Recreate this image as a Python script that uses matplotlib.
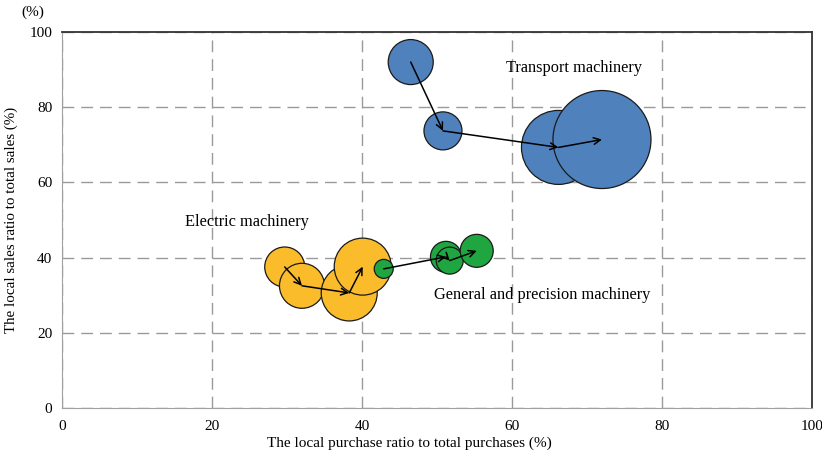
import numpy as np
import matplotlib.pyplot as plt

plt.rcParams['font.family'] = ['Liberation Serif', 'DejaVu Serif']

# bubble data: local purchase ratio (x), local sales ratio (y), bubble size (s)
transport_x = [46.5, 50.8, 66.2, 72.0]
transport_y = [92.0, 73.7, 69.3, 71.4]
transport_s = [1050, 749, 2838, 4979]

electric_x = [29.7, 32.0, 38.3, 40.1]
electric_y = [37.5, 32.5, 30.6, 37.6]
electric_s = [829, 1050, 1626, 1684]

general_x = [42.9, 51.2, 51.7, 55.3]
general_y = [37.0, 40.2, 39.2, 41.8]
general_s = [187, 498, 378, 564]

x_ticks = [0, 20, 40, 60, 80, 100]
y_ticks = [0, 20, 40, 60, 80, 100]

fig = plt.figure(figsize=(8.22, 4.55), dpi=100)
ax = fig.add_axes([0.0754, 0.1033, 0.9124, 0.8264])


def draw_group(xs, ys, ss, color):
    ax.scatter(xs, ys, s=ss, color=color, edgecolor='#1a1a1a', linewidth=0.9, zorder=3)
    for i in range(len(xs) - 1):
        ax.annotate('', xy=(xs[i + 1], ys[i + 1]), xytext=(xs[i], ys[i]),
                    arrowprops=dict(arrowstyle='->', color='black', lw=1.1,
                                    shrinkA=0, shrinkB=0, mutation_scale=12),
                    zorder=4)


draw_group(transport_x, transport_y, transport_s, '#4f81bd')
draw_group(electric_x, electric_y, electric_s, '#fbbc2c')
# green group drawn last so its small bubble sits on top of the yellow ones
draw_group(general_x, general_y, general_s, '#1fa640')

ax.text(59.2, 90.4, 'Transport machinery', fontsize=11.8, ha='left', va='center')
ax.text(16.4, 49.5, 'Electric machinery', fontsize=11.8, ha='left', va='center')
ax.text(49.6, 30.0, 'General and precision machinery', fontsize=11.8, ha='left', va='center')

ax.set_xlim(0, 100)
ax.set_ylim(0, 100)
ax.set_xticks(x_ticks)
ax.set_yticks(y_ticks)
ax.tick_params(length=0, labelsize=11, pad=7)
ax.tick_params(axis='x', pad=9)
ax.grid(True, linestyle=(0, (8.5, 5)), color='#9a9a9a', linewidth=1.0)
ax.set_axisbelow(True)

for side in ['left', 'bottom']:
    ax.spines[side].set_color('#a0a0a0')
for side in ['top', 'right']:
    ax.spines[side].set_color('#333333')
    ax.spines[side].set_linewidth(1.3)

ax.set_xlabel('The local purchase ratio to total purchases (%)', fontsize=11, labelpad=2, x=0.463)
ax.set_ylabel('The local sales ratio to total sales (%)', fontsize=10.8, labelpad=8)
ax.text(-0.039, 1.053, '(%)', transform=ax.transAxes, fontsize=11, ha='center', va='center')

plt.savefig('out.png', dpi=100)
